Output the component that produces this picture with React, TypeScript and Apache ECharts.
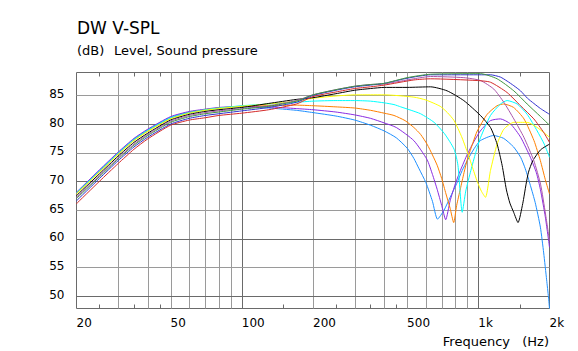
import React, { useEffect, useRef } from 'react';
import * as echarts from 'echarts';

const FONT = '"DejaVu Sans", Verdana, sans-serif';

const xLabelFreqs = [20, 50, 100, 200, 500, 1000, 2000];
const xLabelTexts = ['20', '50', '100', '200', '500', '1k', '2k'];
const yLabelValues = [50, 55, 60, 65, 70, 75, 80, 85];
const vGridFreqs = [30, 40, 50, 60, 70, 80, 90, 100, 200, 300, 400, 500, 600, 700, 800, 900, 1000];
const vGridMajor = [100, 1000];
const hGridMajor = [50, 60, 70, 80];
const minorTickFreqs = [25, 35, 45, 150, 250, 350, 450, 1500];

const Y_MIN = 47.8;
const Y_MAX = 89;

// shared low/mid frequency points (Hz)
const lowFreq = [20, 25, 30, 35, 40, 50, 60, 70, 80, 100, 130, 170, 200, 250, 300, 350];

const violetLow = [68.1, 72.0, 75.1, 77.5, 79.1, 81.3, 82.2, 82.6, 82.9, 83.1, 83.0, 82.7, 82.5, 82.1, 81.6, 81.0];
const violetHiF = [400, 450, 534, 607, 640, 670, 700, 728, 760, 800, 840, 900, 960, 1020, 1126, 1240, 1370, 1510, 1660, 1760, 1830, 1920, 2000];
const violetHiD = [80.2, 79.4, 77.1, 73.8, 71.2, 68.6, 65.8, 63.3, 66.6, 69.6, 71.9, 74.8, 77.0, 78.8, 80.6, 80.9, 80.0, 77.7, 74.2, 71.5, 68.6, 63.8, 58.5];

const dodgerLow = [68.0, 71.9, 75.0, 77.4, 79.0, 81.2, 82.1, 82.5, 82.8, 83.0, 82.8, 82.4, 82.0, 81.4, 80.7, 79.8];
const dodgerHiF = [400, 450, 500, 534, 560, 600, 640, 672, 715, 760, 810, 855, 900, 960, 1020, 1160, 1280, 1410, 1510, 1580, 1660, 1740, 1830, 1890, 1945, 1980, 2000];
const dodgerHiD = [78.8, 77.6, 75.8, 74.0, 72.3, 69.8, 66.5, 63.4, 64.9, 67.2, 69.6, 71.9, 73.7, 75.7, 77.1, 78.0, 77.5, 76.0, 74.2, 72.2, 69.3, 66.3, 62.0, 57.5, 52.8, 49.8, 47.8];

const orangeLow = [67.9, 71.7, 74.8, 77.2, 78.8, 81.0, 82.0, 82.5, 82.8, 83.1, 83.2, 83.3, 83.2, 83.0, 82.8, 82.4];
const orangeHiF = [400, 440, 490, 534, 570, 607, 640, 670, 700, 730, 760, 787, 810, 840, 870, 900, 950, 990, 1090, 1200, 1280, 1410, 1560, 1720, 1830, 1920, 2000];
const orangeHiD = [81.9, 81.5, 80.6, 79.4, 78.2, 76.5, 74.6, 72.8, 70.5, 67.8, 65.3, 62.8, 65.8, 68.7, 71.5, 73.9, 76.8, 78.8, 81.7, 83.2, 83.5, 82.9, 80.9, 77.1, 73.6, 70.3, 67.8];

const cyanLow = [68.0, 71.8, 74.9, 77.3, 78.9, 81.1, 82.0, 82.5, 82.8, 83.2, 83.5, 83.8, 84.0, 84.1, 84.1, 84.0];
const cyanHiF = [400, 440, 470, 520, 570, 650, 720, 790, 820, 855, 885, 930, 975, 1021, 1126, 1241, 1324, 1460, 1609, 1774, 1900, 2000];
const cyanHiD = [83.7, 83.4, 83.0, 82.4, 81.8, 80.3, 78.3, 75.6, 72.8, 64.6, 68.3, 71.9, 75.0, 77.6, 81.5, 83.5, 84.1, 83.5, 81.7, 78.8, 76.5, 74.2];

const yellowLow = [67.8, 71.6, 74.7, 77.1, 78.7, 80.9, 81.9, 82.4, 82.7, 83.1, 83.5, 84.0, 84.5, 84.9, 85.1, 85.1];
const yellowHiF = [400, 534, 600, 690, 740, 790, 850, 897, 942, 989, 1030, 1072, 1126, 1201, 1282, 1413, 1609, 1774, 2000];
const yellowHiD = [85.1, 84.7, 84.2, 83.1, 82.0, 80.6, 77.8, 75.2, 72.6, 70.0, 68.3, 67.2, 71.9, 76.5, 79.1, 80.3, 80.3, 79.4, 77.7];

const blackLow = [67.5, 71.3, 74.4, 76.8, 78.4, 80.7, 81.7, 82.2, 82.5, 82.9, 83.6, 84.3, 84.6, 85.3, 85.9, 86.2];
const blackHiF = [400, 500, 628, 738, 868, 1021, 1126, 1201, 1261, 1315, 1360, 1411, 1472, 1541, 1592, 1630, 1700, 1833, 2000];
const blackHiD = [86.4, 86.4, 86.5, 85.8, 84.1, 81.5, 79.4, 76.5, 72.8, 68.5, 66.2, 64.6, 62.8, 66.1, 69.5, 71.6, 73.6, 75.5, 76.5];

const magentaLow = [67.2, 71.0, 74.1, 76.5, 78.2, 80.5, 81.5, 82.0, 82.3, 82.7, 83.2, 84.1, 85.1, 86.0, 86.6, 86.9];
const magentaHiF = [400, 534, 628, 868, 1021, 1163, 1282, 1413, 1558, 1717, 1833, 1924, 2000];
const magentaHiD = [87.0, 87.9, 88.3, 88.1, 87.6, 86.1, 83.8, 80.9, 77.7, 73.6, 69.5, 64.3, 59.6];

const redLow = [66.1, 70.0, 73.1, 75.6, 77.4, 79.8, 80.7, 81.1, 81.5, 81.9, 82.5, 83.5, 84.8, 85.6, 86.2, 86.5];
const redHiF = [400, 534, 628, 989, 1126, 1324, 1508, 1717, 1893, 2000];
const redHiD = [86.8, 87.7, 87.9, 87.6, 87.3, 85.5, 83.2, 80.9, 78.5, 76.8];

const greenLow = [67.0, 70.8, 73.9, 76.3, 78.0, 80.3, 81.3, 81.8, 82.1, 82.6, 83.1, 84.0, 85.1, 86.0, 86.6, 86.9];
const greenHiF = [400, 500, 628, 1021, 1201, 1413, 1609, 1833, 2000];
const greenHiD = [87.1, 88.1, 88.7, 88.8, 87.9, 85.8, 83.5, 81.3, 79.8];

const blueLow = [66.6, 70.5, 73.6, 76.0, 77.7, 80.0, 81.0, 81.5, 81.8, 82.3, 82.9, 83.8, 85.0, 85.9, 86.5, 86.8];
const blueHiF = [400, 500, 628, 1126, 1240, 1324, 1413, 1508, 1614, 1717, 1833, 2000];
const blueHiD = [87.1, 88.0, 88.6, 88.6, 88.2, 87.5, 86.7, 85.8, 84.5, 83.6, 82.7, 81.7];

const curves = [
  { name: 'c1', color: '#1e90ff', low: dodgerLow, hiF: dodgerHiF, hiD: dodgerHiD },
  { name: 'c2', color: '#8a2be2', low: violetLow, hiF: violetHiF, hiD: violetHiD },
  { name: 'c3', color: '#ff8000', low: orangeLow, hiF: orangeHiF, hiD: orangeHiD },
  { name: 'c4', color: '#00ffff', low: cyanLow, hiF: cyanHiF, hiD: cyanHiD },
  { name: 'c5', color: '#ffff00', low: yellowLow, hiF: yellowHiF, hiD: yellowHiD },
  { name: 'c6', color: '#000000', low: blackLow, hiF: blackHiF, hiD: blackHiD },
  { name: 'c7', color: '#aa55aa', low: magentaLow, hiF: magentaHiF, hiD: magentaHiD },
  { name: 'c8', color: '#d42a2a', low: redLow, hiF: redHiF, hiD: redHiD },
  { name: 'c9', color: '#3030d0', low: blueLow, hiF: blueHiF, hiD: blueHiD },
  { name: 'c10', color: '#409640', low: greenLow, hiF: greenHiF, hiD: greenHiD },
];

export default function App() {
  const ref = useRef<HTMLDivElement>(null);
  useEffect(() => {
    const chart = echarts.init(ref.current as HTMLDivElement, null, { renderer: 'svg' });

    const lineSeries = curves.map((c) => ({
      type: 'line',
      name: c.name,
      data: [
        ...lowFreq.map((f, i) => [f, c.low[i]]),
        ...c.hiF.map((f, i) => [f, c.hiD[i]]),
      ],
      showSymbol: false,
      symbol: 'none',
      smooth: 0.2,
      lineStyle: { width: 1, color: c.color },
      itemStyle: { color: c.color },
      silent: true,
      z: 3,
    }));

    const vGridSeries = {
      type: 'custom',
      silent: true,
      z: 1,
      data: vGridFreqs.map((f) => [f, Y_MIN]),
      renderItem: (params: any, api: any) => {
        const f = api.value(0);
        const cs = params.coordSys;
        const x = Math.round(api.coord([f, Y_MIN])[0]) + 0.5;
        const major = vGridMajor.indexOf(f) >= 0;
        return {
          type: 'line',
          shape: { x1: x, y1: cs.y, x2: x, y2: cs.y + cs.height },
          style: { stroke: major ? '#6a6a6a' : '#9a9a9a', lineWidth: 1 },
        };
      },
    };

    const hGridSeries = {
      type: 'custom',
      silent: true,
      z: 1,
      data: yLabelValues.map((v) => [20, v]),
      renderItem: (params: any, api: any) => {
        const v = api.value(1);
        const cs = params.coordSys;
        const y = Math.round(api.coord([20, v])[1]) + 0.5;
        const major = hGridMajor.indexOf(v) >= 0;
        return {
          type: 'line',
          shape: { x1: cs.x, y1: y, x2: cs.x + cs.width, y2: y },
          style: { stroke: major ? '#6a6a6a' : '#9a9a9a', lineWidth: 1 },
        };
      },
    };

    const minorTickSeries = {
      type: 'custom',
      silent: true,
      z: 1,
      data: minorTickFreqs.map((f) => [f, Y_MIN]),
      renderItem: (params: any, api: any) => {
        const f = api.value(0);
        const cs = params.coordSys;
        const x = Math.round(api.coord([f, Y_MIN])[0]) + 0.5;
        return {
          type: 'group',
          children: [
            { type: 'line', shape: { x1: x, y1: cs.y, x2: x, y2: cs.y + 4 }, style: { stroke: '#6a6a6a', lineWidth: 1 } },
            { type: 'line', shape: { x1: x, y1: cs.y + cs.height - 4, x2: x, y2: cs.y + cs.height }, style: { stroke: '#6a6a6a', lineWidth: 1 } },
          ],
        };
      },
    };

    const xLabelSeries = {
      type: 'custom',
      silent: true,
      z: 5,
      clip: false,
      data: xLabelFreqs.map((f) => [f, Y_MIN]),
      renderItem: (params: any, api: any) => {
        const f = api.value(0);
        const cs = params.coordSys;
        const x = api.coord([f, Y_MIN])[0];
        return {
          type: 'text',
          x: x,
          y: cs.y + cs.height + 14.3,
          style: {
            text: xLabelTexts[params.dataIndex],
            font: '12px ' + FONT,
            fill: '#000',
            align: 'left',
            verticalAlign: 'middle',
          },
        };
      },
    };

    const yLabelSeries = {
      type: 'custom',
      silent: true,
      z: 5,
      clip: false,
      data: yLabelValues.map((v) => [20, v]),
      renderItem: (params: any, api: any) => {
        const v = api.value(1);
        const cs = params.coordSys;
        const y = api.coord([20, v])[1];
        return {
          type: 'text',
          x: cs.x - 12,
          y: y - 1.2,
          style: {
            text: String(v),
            font: '12px ' + FONT,
            fill: '#000',
            align: 'right',
            verticalAlign: 'middle',
          },
        };
      },
    };

    chart.setOption({
      animation: false,
      backgroundColor: '#ffffff',
      grid: {
        left: 76.5,
        top: 72.5,
        width: 473,
        height: 236,
        show: true,
        borderColor: '#6a6a6a',
        borderWidth: 1,
        backgroundColor: 'transparent',
      },
      xAxis: {
        type: 'log',
        logBase: 10,
        min: 20,
        max: 2000,
        show: false,
      },
      yAxis: {
        type: 'value',
        min: Y_MIN,
        max: Y_MAX,
        show: false,
      },
      graphic: [
        { type: 'text', x: 77, y: 27.8, style: { text: 'DW V-SPL', font: '17px ' + FONT, fill: '#000', verticalAlign: 'middle' } },
        { type: 'text', x: 77, y: 50, style: { text: '(dB)', font: '13px ' + FONT, fill: '#000', verticalAlign: 'middle' } },
        { type: 'text', x: 114, y: 50, style: { text: 'Level, Sound pressure', font: '13px ' + FONT, fill: '#000', verticalAlign: 'middle' } },
        { type: 'text', x: 510, y: 341.5, style: { text: 'Frequency', font: '13px ' + FONT, fill: '#000', align: 'right', verticalAlign: 'middle' } },
        { type: 'text', x: 549, y: 341.5, style: { text: '(Hz)', font: '13px ' + FONT, fill: '#000', align: 'right', verticalAlign: 'middle' } },
      ],
      series: [vGridSeries, hGridSeries, minorTickSeries, ...lineSeries, xLabelSeries, yLabelSeries],
    });

    return () => {
      chart.dispose();
    };
  }, []);

  return (
    <div
      ref={ref}
      style={{ position: 'fixed', left: 0, top: 0, width: 578, height: 351, background: '#fff' }}
    />
  );
}
